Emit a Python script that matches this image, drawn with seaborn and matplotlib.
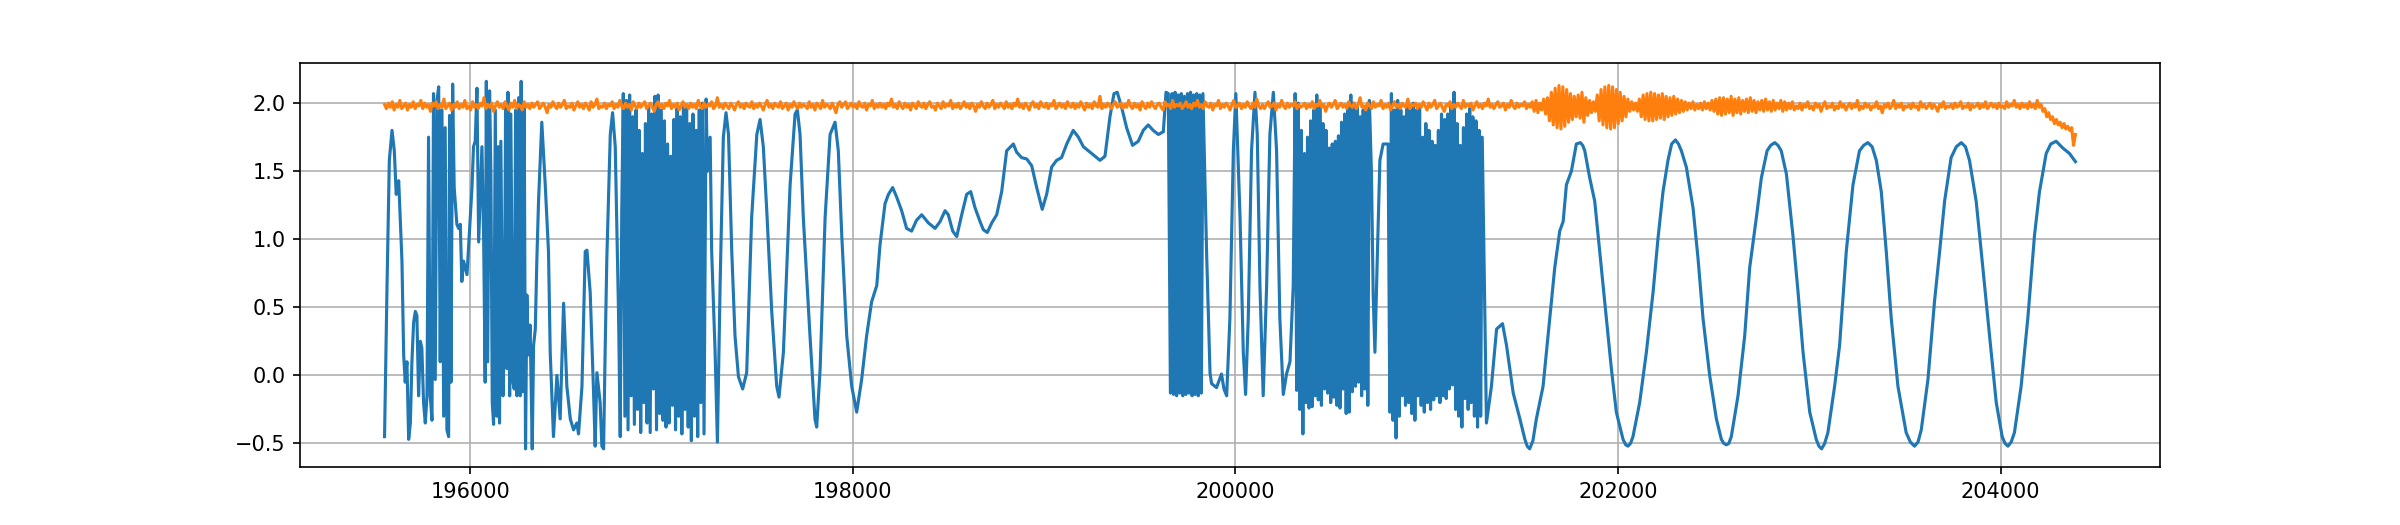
import numpy as np
import pandas as pd
import matplotlib
matplotlib.use("Agg")
import matplotlib.pyplot as plt
import seaborn as sns

# ---------------- blue series ----------------
blue_seg1 = [(195552, -0.45), (195565, 0.66), (195577, 1.58), (195591, 1.80), (195603, 1.65),
             (195613, 1.33), (195626, 1.43), (195643, 0.84), (195652, 0.15), (195660, -0.05),
             (195669, 0.10), (195678, -0.47), (195687, -0.35), (195695, 0.10), (195704, 0.39),
             (195713, 0.47), (195721, 0.44), (195730, -0.15), (195739, 0.25), (195747, 0.20),
             (195756, -0.20), (195765, -0.35), (195774, -0.15), (195782, 1.75), (195791, -0.15),
             (195800, -0.33), (195808, 2.07), (195817, -0.03), (195826, 2.02), (195835, 2.12),
             (195843, 0.10), (195852, 1.95), (195861, -0.30), (195869, 1.82), (195878, -0.40),
             (195887, -0.45), (195892, 1.91), (195899, -0.05), (195908, 2.14), (195916, 1.38),
             (195930, 1.11), (195939, 1.08), (195948, 1.11), (195956, 0.69), (195965, 0.84),
             (195983, 0.74), (195991, 0.94), (196000, 1.16), (196009, 1.38), (196017, 1.68),
             (196026, 1.72), (196035, 2.11), (196044, 0.98), (196061, 1.68), (196070, 1.01),
             (196078, -0.05), (196084, 2.16), (196091, 0.10), (196101, 2.09), (196108, 1.48),
             (196115, -0.20), (196122, -0.36), (196131, 1.95), (196139, -0.30), (196146, 1.68),
             (196153, -0.35), (196160, 1.72), (196171, -0.15), (196178, 0.29), (196185, 2.00),
             (196192, 0.05), (196197, 2.08), (196206, -0.15), (196212, 1.92), (196223, -0.05),
             (196230, -0.10), (196237, 1.95), (196244, -0.15), (196253, 2.04), (196261, -0.15),
             (196266, 2.16), (196275, -0.12), (196282, 2.00), (196289, -0.54), (196296, 0.59),
             (196303, 0.15), (196313, 0.37), (196324, -0.54), (196331, 0.22), (196340, 0.34),
             (196348, 0.84), (196357, 1.28), (196374, 1.86), (196392, 1.40), (196409, 0.91),
             (196418, 0.17), (196435, -0.45), (196453, 0.00), (196470, -0.32), (196488, 0.53),
             (196505, -0.08), (196523, -0.32), (196540, -0.40), (196557, -0.35), (196566, -0.43),
             (196584, -0.08), (196601, 0.91), (196610, 0.92), (196627, 0.61), (196644, -0.10),
             (196653, -0.52), (196662, 0.02), (196679, -0.20), (196688, -0.52), (196697, -0.54),
             (196705, 0.17), (196714, 0.86), (196732, 1.77), (196744, 1.93), (196758, 1.68),
             (196775, 0.47), (196784, -0.45), (196792, 1.21)]

dense_c_span = (196800, 197222)
dense_c_y = [2.07, -0.30, 2.02, -0.40, 2.06, -0.15, 1.90, -0.36, 1.95, -0.25, 1.80, -0.42,
             1.63, -0.20, 1.85, -0.35, 1.97, -0.42, 1.92, -0.10, 2.05, -0.40, 2.06, -0.28,
             1.95, -0.33, 1.87, -0.38, 1.70, -0.35, 1.61, -0.22, 1.88, -0.40, 1.96, -0.30,
             1.90, -0.43, 2.00, -0.25, 1.97, -0.38, 1.85, -0.48, 1.92, -0.30, 1.80, -0.45,
             1.95, -0.20, 2.00, -0.43]

blue_seg2 = [(197233, 2.03), (197240, 1.50), (197254, 1.75), (197262, 0.91), (197280, 0.17),
             (197292, -0.49), (197306, 0.66), (197323, 1.75), (197337, 1.93), (197350, 1.77),
             (197367, 0.91), (197384, 0.29), (197402, -0.01), (197424, -0.10), (197445, 0.02),
             (197471, 1.16), (197498, 1.77), (197515, 1.88), (197532, 1.68), (197550, 1.21),
             (197576, 0.47), (197602, -0.08), (197614, -0.16), (197637, 0.17), (197672, 1.40),
             (197698, 1.92), (197710, 1.95), (197724, 1.77), (197741, 1.16), (197776, 0.29),
             (197802, -0.32), (197811, -0.38), (197829, 0.05), (197855, 1.16), (197881, 1.77),
             (197907, 1.86), (197924, 1.65), (197942, 1.03), (197968, 0.29), (197994, -0.08),
             (198020, -0.27), (198046, -0.03), (198072, 0.29), (198098, 0.54), (198125, 0.66),
             (198142, 0.96), (198168, 1.26), (198186, 1.33), (198208, 1.38), (198229, 1.31),
             (198255, 1.21), (198281, 1.08), (198307, 1.06), (198333, 1.14), (198360, 1.18),
             (198395, 1.12), (198430, 1.08), (198456, 1.13), (198482, 1.21), (198499, 1.18),
             (198522, 1.06), (198543, 1.02), (198569, 1.18), (198595, 1.33), (198616, 1.35),
             (198639, 1.23), (198665, 1.13), (198682, 1.07), (198703, 1.05), (198726, 1.12),
             (198752, 1.18), (198778, 1.35), (198804, 1.65), (198839, 1.70), (198856, 1.64),
             (198882, 1.60), (198909, 1.59), (198935, 1.54), (198961, 1.38), (198990, 1.22),
             (199013, 1.33), (199039, 1.53), (199065, 1.58), (199091, 1.60), (199118, 1.70),
             (199152, 1.80), (199179, 1.75), (199205, 1.68), (199240, 1.64), (199266, 1.61),
             (199292, 1.58), (199318, 1.61), (199344, 1.90), (199365, 2.07), (199382, 2.08),
             (199405, 1.97), (199431, 1.82), (199462, 1.69), (199492, 1.72), (199518, 1.80),
             (199544, 1.84), (199570, 1.80), (199597, 1.77), (199623, 1.79), (199637, 2.08),
             (199649, 2.07)]

dense_d_span = (199660, 199830)
dense_d_y = [-0.13, 2.07, -0.14, 2.08, -0.15, 2.06, -0.13, 2.07, -0.15, 2.05, -0.14, 2.07,
             -0.13, 2.08, -0.15, 2.06, -0.14, 2.07, -0.15, 2.06, -0.13, 2.07]

blue_seg3 = [(199849, 0.91), (199867, 0.02), (199875, -0.06), (199901, -0.09), (199927, 0.01),
             (199940, -0.10), (199954, -0.15), (199971, 0.42), (199989, 1.65), (200002, 2.07),
             (200024, 1.16), (200041, 0.17), (200053, -0.14), (200067, 0.42), (200084, 1.65),
             (200102, 2.08), (200114, 1.77), (200128, 0.66), (200145, -0.15), (200163, 0.66),
             (200180, 1.77), (200198, 2.08), (200215, 1.65), (200232, 0.42), (200250, -0.14),
             (200267, 0.01), (200285, 0.10), (200302, 0.66)]

dense_e_span = (200312, 200700)
dense_e_y = [2.07, -0.11, 2.00, -0.25, 1.80, -0.43, 1.63, -0.20, 1.75, -0.24, 1.87, -0.23,
             1.95, -0.15, 2.06, -0.18, 1.98, -0.22, 1.85, -0.10, 1.80, -0.13, 1.67, -0.20,
             1.70, -0.16, 1.72, -0.22, 1.76, -0.24, 1.86, -0.10, 1.92, -0.28, 1.98, -0.27,
             2.06, -0.12, 2.00, -0.08, 1.97, -0.05, 1.90, -0.15, 1.95, -0.10, 1.98, -0.22,
             2.02]

blue_seg4 = [(200711, 1.48), (200720, 0.59), (200729, 0.17), (200741, 0.84), (200755, 1.58),
             (200772, 1.70), (200798, 1.70)]

dense_f_span = (200807, 201290)
dense_f_y = [-0.27, 2.07, -0.33, 1.95, -0.46, 2.02, -0.30, 1.95, -0.15, 1.90, -0.22, 1.98,
             -0.20, 1.95, -0.28, 2.00, -0.33, 1.95, -0.15, 1.97, -0.22, 1.75, -0.27, 1.85,
             -0.20, 1.80, -0.25, 1.72, -0.18, 1.69, -0.15, 1.80, -0.20, 1.92, -0.15, 1.88,
             -0.17, 1.92, -0.10, 1.98, -0.07, 2.08, -0.25, 1.85, -0.30, 1.69, -0.38, 1.82,
             -0.17, 1.92, -0.25, 1.96, -0.20, 1.90, -0.30, 1.87, -0.38, 1.80, -0.30, 1.75]

blue_seg5 = [(201312, -0.35), (201338, -0.08), (201365, 0.34), (201396, 0.38), (201417, 0.22),
             (201452, -0.13), (201487, -0.32), (201513, -0.47), (201525, -0.52), (201538, -0.54),
             (201555, -0.48), (201573, -0.32),
             (201608, -0.08), (201634, 0.29), (201669, 0.79), (201695, 1.06), (201713, 1.13),
             (201730, 1.40), (201756, 1.50), (201782, 1.70), (201803, 1.71), (201815, 1.69),
             (201826, 1.65),
             (201852, 1.45), (201878, 1.28), (201904, 0.91), (201939, 0.42), (201965, 0.05),
             (201991, -0.27), (202026, -0.47), (202040, -0.51), (202052, -0.52), (202065, -0.50),
             (202078, -0.45), (202113, -0.20),
             (202148, 0.17), (202183, 0.61), (202209, 1.01), (202235, 1.35), (202261, 1.58),
             (202280, 1.70), (202300, 1.73), (202316, 1.70), (202331, 1.65), (202357, 1.53),
             (202392, 1.23), (202418, 0.86),
             (202444, 0.42), (202479, 0.00), (202514, -0.32), (202540, -0.47), (202553, -0.50),
             (202566, -0.51), (202579, -0.50),
             (202592, -0.45), (202627, -0.15), (202662, 0.29), (202688, 0.79), (202723, 1.16),
             (202749, 1.45), (202779, 1.65), (202798, 1.69), (202819, 1.71), (202836, 1.69),
             (202853, 1.65), (202880, 1.48),
             (202914, 1.03), (202941, 0.61), (202967, 0.17), (203002, -0.27), (203036, -0.47),
             (203050, -0.52), (203064, -0.54), (203080, -0.50), (203097, -0.42), (203132, -0.08),
             (203158, 0.22), (203193, 0.91),
             (203228, 1.40), (203262, 1.65), (203284, 1.69), (203306, 1.71), (203328, 1.68),
             (203350, 1.58), (203376, 1.35),
             (203402, 0.91), (203428, 0.42), (203463, -0.08), (203506, -0.42), (203528, -0.49),
             (203550, -0.52), (203568, -0.49),
             (203585, -0.40), (203620, -0.03), (203654, 0.54), (203681, 0.91), (203707, 1.28),
             (203741, 1.60), (203768, 1.68), (203794, 1.71), (203816, 1.68), (203837, 1.58),
             (203872, 1.28), (203907, 0.79),
             (203942, 0.29), (203977, -0.20), (204008, -0.45), (204023, -0.50), (204038, -0.52),
             (204055, -0.49), (204072, -0.42),
             (204107, -0.08), (204142, 0.42), (204177, 1.03), (204203, 1.35), (204238, 1.63),
             (204262, 1.70), (204290, 1.72), (204325, 1.67), (204360, 1.63), (204391, 1.57)]

# ---------------- orange series (uniformly sampled) ----------------
orange_span = (195552, 204391)
orange_y = [
    1.99, 1.96, 2.00, 1.97, 2.01, 1.95, 1.99, 1.97, 2.02, 1.96, 1.98, 2.00, 1.95, 1.99, 1.97, 2.01, 1.96, 1.99, 1.98, 2.02,
    1.96, 2.00, 1.97, 1.99, 1.94, 2.00, 1.98, 2.01, 1.96, 1.99, 1.97, 2.03, 1.96, 1.98, 2.00, 1.95, 1.99, 1.97, 2.01, 1.96,
    1.99, 1.97, 2.02, 1.96, 1.98, 1.95, 2.01, 1.97, 1.99, 1.96, 2.00, 1.98, 2.04, 1.96, 1.99, 1.97, 2.00, 1.94, 1.98, 2.01,
    1.97, 1.99, 1.96, 2.01, 1.98, 1.95, 2.00, 1.97, 2.02, 1.96, 1.99, 1.98, 1.95, 2.01, 1.97, 1.99, 1.96, 2.00, 1.97, 1.99,
    2.01, 1.96, 1.98, 2.00, 1.97, 1.93, 1.99, 1.97, 2.01, 1.98, 1.96, 2.00, 1.97, 1.99, 2.02, 1.96, 1.98, 1.97, 2.00, 1.95,
    1.98, 2.01, 1.97, 1.99, 1.96, 2.00, 1.98, 1.95, 2.01, 1.97, 1.99, 2.03, 1.96, 1.98, 1.97, 2.00, 1.96, 1.99, 1.98, 2.01,
    1.96, 1.99, 1.97, 2.02, 1.98, 1.96, 2.00, 1.97, 1.99, 1.95, 2.01, 1.98, 1.96, 2.00, 1.97, 1.99, 2.01, 1.96, 1.98, 2.00,
    1.97, 1.94, 1.99, 2.01, 1.97, 1.99, 1.96, 2.00, 1.98, 2.02, 1.96, 1.99, 1.97, 2.00, 1.95, 1.98, 2.01, 1.97, 1.99, 1.96,
    2.00, 1.97, 1.99, 1.96, 2.02, 1.98, 1.96, 2.00, 1.97, 1.99, 1.98, 2.01, 1.96, 1.98, 2.04, 1.97, 1.99, 1.96, 2.00, 1.98,
    1.96, 2.00, 1.98, 1.95, 1.99, 2.01, 1.97, 1.99, 1.96, 2.00, 1.98, 1.97, 2.01, 1.96, 1.99, 1.97, 2.00, 1.98, 1.95, 1.99,
    2.02, 1.97, 1.99, 1.96, 2.00, 1.98, 1.97, 2.01, 1.96, 1.98, 2.00, 1.95, 1.99, 1.97, 2.01, 1.98, 1.96, 2.00, 1.97, 1.99,
    1.98, 1.96, 2.01, 1.97, 1.99, 1.95, 2.00, 1.98, 1.96, 2.02, 1.97, 1.99, 1.98, 1.96, 2.00, 1.97, 1.93, 1.99, 2.01, 1.97,
    1.99, 2.01, 1.96, 1.98, 2.00, 1.97, 1.99, 1.96, 2.01, 1.98, 1.97, 2.00, 1.95, 1.99, 1.98, 2.02, 1.96, 1.99, 1.97, 2.00,
    1.97, 1.99, 1.96, 2.00, 1.98, 2.03, 1.97, 1.99, 1.96, 2.01, 1.98, 1.96, 2.00, 1.97, 1.99, 1.95, 2.00, 1.98, 1.96, 2.01,
    1.98, 1.97, 2.00, 1.96, 1.99, 2.01, 1.97, 1.98, 1.95, 2.00, 1.98, 1.96, 2.01, 1.97, 1.99, 1.98, 2.02, 1.96, 1.99, 1.97,
    2.00, 1.96, 1.98, 2.01, 1.97, 1.99, 1.96, 2.00, 1.98, 1.94, 1.99, 1.97, 2.01, 1.98, 1.96, 2.00, 1.97, 1.99, 2.02, 1.96,
    1.99, 1.97, 2.00, 1.98, 1.96, 2.01, 1.97, 1.99, 1.96, 2.00, 1.98, 2.03, 1.97, 1.99, 1.96, 2.00, 1.98, 1.95, 1.99, 2.01,
    1.97, 1.99, 1.96, 2.01, 1.98, 1.97, 2.00, 1.96, 1.99, 1.98, 2.02, 1.96, 1.98, 2.00, 1.97, 1.99, 1.96, 2.01, 1.98, 1.97,
    2.00, 1.96, 1.99, 1.97, 2.01, 1.98, 1.95, 2.00, 1.97, 1.99, 1.96, 2.01, 1.98, 1.97, 2.05, 1.96, 1.99, 1.97, 2.00, 1.98,
    1.96, 1.99, 2.01, 1.97, 1.98, 2.00, 1.96, 1.99, 1.97, 2.02, 1.98, 1.96, 2.00, 1.97, 1.99, 1.95, 2.01, 1.98, 1.96, 2.00,
    1.97, 2.01, 1.98, 1.96, 1.99, 2.00, 1.97, 1.95, 2.01, 1.98, 1.99, 1.96, 2.02, 1.97, 1.99, 1.98, 2.00, 1.96, 1.98, 2.01,
    1.97, 1.99, 1.96, 2.00, 1.98, 2.02, 1.97, 1.99, 1.96, 2.01, 1.98, 1.97, 2.00, 1.95, 1.99, 1.98, 2.02, 1.96, 1.99, 1.97,
    2.00, 1.98, 1.95, 1.99, 2.02, 1.97, 1.98, 2.00, 1.96, 1.99, 1.97, 2.01, 1.98, 1.96, 2.00, 1.97, 2.03, 1.98, 1.96, 1.99,
    1.96, 1.99, 2.01, 1.97, 1.98, 2.00, 1.95, 1.99, 1.97, 2.02, 1.98, 1.96, 2.00, 1.97, 1.99, 1.98, 2.01, 1.96, 1.99, 1.97,
    1.98, 2.00, 1.96, 1.99, 1.97, 2.01, 1.96, 1.99, 1.98, 2.02, 1.97, 1.99, 1.94, 1.98, 2.00, 1.97, 1.99, 2.02, 1.96, 1.98,
    2.00, 1.97, 1.99, 1.96, 2.01, 1.98, 1.97, 2.00, 1.96, 1.99, 2.04, 1.97, 1.98, 1.95, 2.00, 1.98, 1.96, 2.01, 1.97, 1.99,
    1.98, 2.02, 1.96, 1.99, 1.97, 2.00, 1.95, 1.98, 2.01, 1.97, 1.99, 1.96, 2.00, 1.98, 1.97, 2.03, 1.96, 1.99, 1.98, 2.00,
    1.96, 1.99, 1.97, 2.01, 1.98, 1.95, 2.00, 1.97, 1.99, 2.02, 1.96, 1.98, 2.00, 1.97, 1.94, 1.99, 1.98, 2.01, 1.96, 1.99,
    1.97, 2.00, 1.98, 1.96, 2.02, 1.97, 1.99, 1.98, 2.00, 1.95, 1.98, 2.01, 1.97, 1.99, 1.96, 2.00, 1.98, 2.03, 1.97, 1.99,
    1.96, 1.99, 2.01, 1.97, 1.98, 2.00, 1.95, 1.99, 1.97, 2.02, 1.98, 1.96, 2.00, 1.97, 1.99, 1.98, 2.01, 1.96, 1.99, 1.97,
    # burst
    2.01, 1.94, 2.02, 1.93, 2.00, 1.95, 2.03, 1.92, 2.04,
    1.87, 2.08, 1.84, 2.11, 1.82, 2.13, 1.81, 2.12, 1.83, 2.10, 1.86, 2.07, 1.88, 2.05, 1.90, 2.06, 1.89, 2.08, 1.86, 2.04, 1.91,
    2.02, 1.93, 2.01, 1.94,
    2.06, 1.87, 2.10, 1.84, 2.12, 1.82, 2.13, 1.81, 2.12, 1.82, 2.10, 1.85, 2.08, 1.87, 2.05, 1.90, 2.03,
    1.94, 2.01, 1.95, 2.00, 1.94,
    2.03, 1.90, 2.06, 1.88, 2.07, 1.87, 2.08, 1.87, 2.07, 1.88, 2.06, 1.89, 2.07, 1.88, 2.05, 1.90, 2.04, 1.91, 2.05, 1.92,
    2.03, 1.93, 2.02, 1.94,
    2.01, 1.95, 2.00, 1.96, 2.01, 1.95, 1.99, 1.96, 2.00, 1.95, 2.01, 1.96, 2.00, 1.95, 2.02, 1.94,
    2.03, 1.92, 2.04, 1.91,
    2.04, 1.92, 2.03, 1.93, 2.05, 1.91, 2.03, 1.93, 2.04, 1.92, 2.02, 1.94, 2.03, 1.93, 2.04, 1.94, 2.02, 1.93, 2.01, 1.95,
    2.02, 1.94, 2.03, 1.95, 2.01, 1.94, 2.02, 1.95, 2.00, 1.96, 2.02, 1.94, 2.01, 1.95, 2.00, 1.96, 2.01, 1.95,
    # calm again
    1.98, 1.96, 2.00, 1.95, 1.99, 1.97, 2.01, 1.96, 1.98, 1.95, 2.00, 1.97, 1.99, 1.94, 1.98, 2.01, 1.96, 1.98, 1.97, 2.00,
    1.95, 1.98, 1.96, 2.01, 1.97, 1.99, 1.95, 1.98, 2.00, 1.96, 1.99, 1.97, 2.02, 1.95, 1.98, 1.96, 2.00, 1.97, 1.99, 1.95,
    1.98, 1.97, 2.01, 1.96, 1.98, 1.93, 1.99, 1.97, 2.00, 1.96, 1.98, 2.02, 1.96, 1.99, 1.97, 2.00, 1.95, 1.98, 1.97, 1.99,
    1.96, 2.00, 1.97, 1.98, 1.95, 2.01, 1.97, 1.99, 1.96, 1.98, 2.00, 1.96, 1.99, 1.97, 1.94, 1.99, 1.97, 2.01, 1.96, 1.98,
    1.97, 1.99, 1.96, 2.00, 1.97, 1.98, 2.01, 1.96, 1.98, 1.97, 2.00, 1.95, 1.99, 1.97, 1.98, 2.00, 1.96, 1.99, 1.97, 2.01,
    1.96, 1.98, 2.00, 1.97, 1.99, 1.96, 2.00, 1.97, 1.98, 1.96, 2.01, 1.97, 1.99, 1.98, 2.02, 1.97, 1.99, 1.96, 2.00, 1.97,
    1.99, 1.96, 2.01, 1.97, 1.99, 1.96, 2.02,
    # final drop
    1.97, 1.99, 1.94, 1.96, 1.90, 1.93, 1.88, 1.90, 1.85, 1.88, 1.84, 1.86, 1.82, 1.85, 1.81, 1.83, 1.80, 1.82, 1.69, 1.77,
]

# ---------------- assemble ----------------
def dense(span, ys):
    return list(zip(np.linspace(span[0], span[1], len(ys)), ys))

blue_pts = (blue_seg1 + dense(dense_c_span, dense_c_y) + blue_seg2
            + dense(dense_d_span, dense_d_y) + blue_seg3
            + dense(dense_e_span, dense_e_y) + blue_seg4
            + dense(dense_f_span, dense_f_y) + blue_seg5)
df_blue = pd.DataFrame(blue_pts, columns=["x", "y"])
df_orange = pd.DataFrame({"x": np.linspace(orange_span[0], orange_span[1], len(orange_y)),
                          "y": orange_y})

fig, ax = plt.subplots(figsize=(16, 3.5), dpi=150)
sns.lineplot(data=df_blue, x="x", y="y", ax=ax, color="#1f77b4", linewidth=1.5,
             estimator=None, sort=False)
sns.lineplot(data=df_orange, x="x", y="y", ax=ax, color="#ff7f0e", linewidth=1.5,
             estimator=None, sort=False)
ax.grid(True)
ax.set_xlabel("")
ax.set_ylabel("")
fig.savefig("out.png", dpi=150)
